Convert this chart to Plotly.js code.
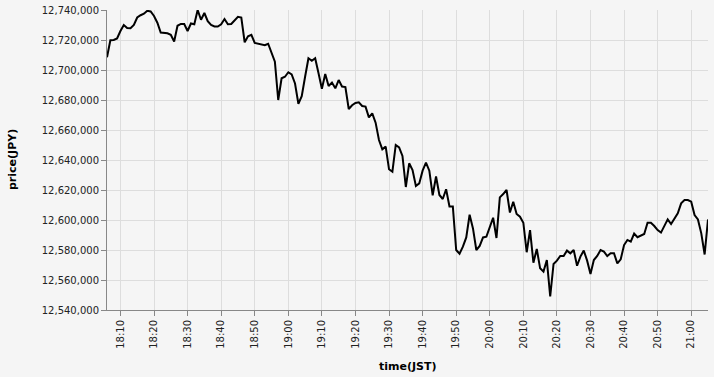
<!DOCTYPE html>
<html>
<head>
<meta charset="utf-8">
<script src="https://cdn.plot.ly/plotly-3.0.1.min.js"></script>
<style>html,body{margin:0;padding:0;background:#f5f5f5;}#chart{width:714px;height:377px;}</style>
</head>
<body>
<div id="chart"></div>
<script>
// Start time and per-minute prices (JPY), 18:06 .. 21:05
const startTime = "2024-01-01 18:06:00";
const prices = [
12708500,12719800,12720000,12721000,12726000,12730000,12728000,12727800,12730000,12735000,
12736500,12737500,12739500,12739000,12736000,12731500,12725000,12725000,12724500,12723500,
12719000,12729500,12730700,12730700,12726000,12731000,12730500,12740000,12733500,12738000,
12732500,12730000,12729000,12729000,12730500,12734000,12730500,12730700,12733000,12735500,
12735000,12718500,12722500,12723500,12718000,12717500,12716500,12716500,12717500,12711000,
12705500,12680000,12694500,12695500,12698500,12697000,12691000,12677500,12682500,12695500,
12707800,12706200,12707800,12697800,12687500,12697300,12689300,12691600,12687800,12693300,
12689000,12688600,12674000,12676500,12678000,12678500,12676000,12675600,12668400,12671100,
12664900,12653300,12647100,12648900,12633800,12632200,12650000,12648400,12642700,12622000,
12637800,12633300,12622700,12624400,12632900,12638200,12632900,12616500,12629000,12616700,
12614000,12620500,12609000,12609000,12580000,12577500,12582200,12588400,12603500,12594400,
12580000,12582700,12588400,12588900,12595100,12601500,12588000,12615100,12617300,12620000,
12605000,12612200,12604000,12602200,12598200,12578500,12593300,12571500,12580700,12567800,
12565600,12573300,12549000,12570700,12572900,12576000,12576000,12579600,12577800,12580000,
12569500,12575600,12579600,12572900,12564000,12573300,12576000,12580000,12578900,12576000,
12577800,12577800,12571100,12573800,12583300,12586700,12585600,12591000,12588500,12589500,
12590700,12598200,12598200,12596000,12593300,12591600,12595600,12600400,12597300,12601100,
12604400,12611100,12613300,12613300,12612200,12603300,12600400,12591100,12577000,12600400
];
const xTitle = "time(JST)";
const yTitle = "price(JPY)";

function pad(n){return (n<10?"0":"")+n;}
const base = new Date(startTime.replace(" ","T")+"Z").getTime();
const times = prices.map((p,i)=>{
  const d = new Date(base + i*60000);
  return d.getUTCFullYear()+"-"+pad(d.getUTCMonth()+1)+"-"+pad(d.getUTCDate())+" "+pad(d.getUTCHours())+":"+pad(d.getUTCMinutes())+":00";
});

const fontFam = "DejaVu Sans, Verdana, sans-serif";
const trace = {
  x: times, y: prices, type: "scatter", mode: "lines",
  line: {color: "#000000", width: 2}, hoverinfo: "skip"
};
const layout = {
  width: 714, height: 377,
  margin: {l: 107, r: 6, t: 10, b: 67},
  paper_bgcolor: "#f5f5f5", plot_bgcolor: "#f5f5f5",
  showlegend: false,
  xaxis: {
    type: "date",
    range: [times[0], times[times.length-1]],
    tick0: "2024-01-01 18:10:00", dtick: 600000,
    tickformat: "%H:%M", tickangle: -90,
    showgrid: true, gridcolor: "#dddddd", gridwidth: 1,
    showline: true, linecolor: "#888888", linewidth: 1,
    ticks: "outside", ticklen: 5, tickcolor: "#888888",
    tickfont: {family: fontFam, size: 10, color: "#222222"},
    zeroline: false, automargin: false
  },
  yaxis: {
    range: [12540000, 12740000], dtick: 20000, tick0: 12540000,
    tickformat: ",.0f",
    showgrid: true, gridcolor: "#dddddd", gridwidth: 1,
    showline: true, linecolor: "#888888", linewidth: 1,
    ticks: "outside", ticklen: 5, tickcolor: "#888888",
    tickfont: {family: fontFam, size: 10, color: "#222222"},
    zeroline: false, automargin: false
  },
  annotations: [
    {text: yTitle, xref: "paper", yref: "paper", x: 0, y: 0.5, xshift: -95,
     xanchor: "center", yanchor: "middle", textangle: -90, showarrow: false,
     font: {family: fontFam, size: 11, color: "#000000", weight: "bold"}},
    {text: xTitle, xref: "paper", yref: "paper", x: 0.5, y: 0, yshift: -56,
     xanchor: "center", yanchor: "middle", showarrow: false,
     font: {family: fontFam, size: 11, color: "#000000", weight: "bold"}}
  ]
};
Plotly.newPlot("chart", [trace], layout, {staticPlot: true, displayModeBar: false});
</script>
</body>
</html>
